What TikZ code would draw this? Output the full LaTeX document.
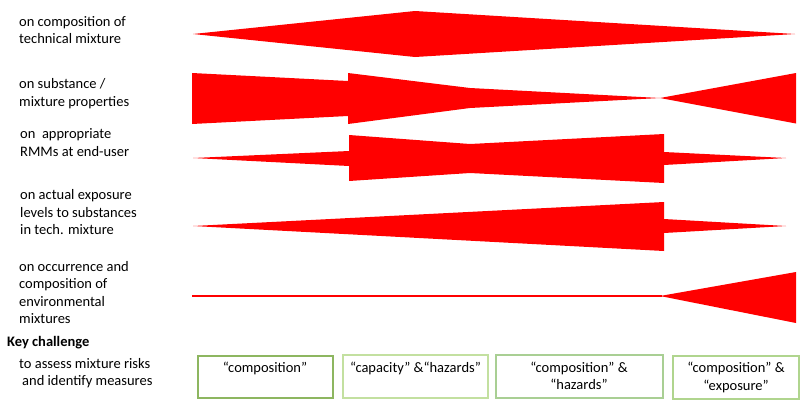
\documentclass[tikz,border=0pt]{standalone}
\usepackage{fontspec}
\setmainfont{Carlito}
\definecolor{arrowred}{HTML}{FF0000}
\definecolor{boxA}{HTML}{8DB660}
\definecolor{boxB}{HTML}{C3E0A0}
\definecolor{boxC}{HTML}{A9CF94}
\definecolor{boxD}{HTML}{B0D58E}
\begin{document}
\begin{tikzpicture}[x=1pt,y=-1pt,
  lbl/.style={anchor=base west, inner sep=0pt, font=\fontsize{14.5}{17.5}\selectfont},
  btxt/.style={anchor=base, inner sep=0pt, font=\fontsize{14.5}{17.5}\selectfont},
  redshape/.style={fill=arrowred, draw=none},
  kbox/.style={draw=#1, line width=2pt, fill=none}]
\useasboundingbox (0,0) rectangle (800,400);

% left labels
\node[lbl] (t1a) at (19,26) {on composition of};
\node[lbl] (t1b) at (19,43.5) {technical mixture};
\node[lbl] (t2a) at (19,88.5) {on substance /};
\node[lbl] (t2b) at (19,106) {mixture properties};
\node[lbl] (t3a) at (20,138.5) {on\ \ appropriate};
\node[lbl] (t3b) at (20,156) {RMMs at end-user};
\node[lbl] (t4a) at (20,199.5) {on actual exposure};
\node[lbl] (t4b) at (20,217) {levels to substances};
\node[lbl] (t4c) at (20,234.5) {in tech. mixture};
\node[lbl] (t5a) at (19,271) {on occurrence and};
\node[lbl] (t5b) at (19,288.5) {composition of};
\node[lbl] (t5c) at (19,306) {environmental};
\node[lbl] (t5d) at (19,323.5) {mixtures};
\node[lbl, font=\fontsize{14.5}{17.5}\selectfont\bfseries] (kc) at (7,346) {Key challenge};
\node[lbl] (t6a) at (19,368) {to assess mixture risks};
\node[lbl] (t6b) at (22,385.5) {and identify measures};

% row 1
\fill[redshape] (193,34) -- (415,11) -- (795,34) -- (415,57) -- cycle;
% row 2
\fill[redshape] (192,73) -- (348,81) -- (348,73) -- (470,88) -- (660,98) -- (470,108) -- (348,124) -- (348,116) -- (192,124) -- cycle;
\fill[redshape] (660,98) -- (796,73) -- (796,123.5) -- cycle;
% row 3
\fill[redshape] (193,158) -- (349,151) -- (349,135) -- (470,144) -- (664,134) -- (664,152) -- (786,158) -- (664,165) -- (664,183) -- (470,173) -- (349,181) -- (349,166) -- cycle;
% row 4
\fill[redshape] (193,226) -- (664,202) -- (664,219) -- (786,226) -- (664,233) -- (664,251) -- cycle;
% row 5
\draw[arrowred, line width=1.5pt] (192,296) -- (662,296);
\fill[redshape] (660,296) -- (796,272) -- (796,323) -- cycle;

% key challenge boxes
\draw[kbox=boxA] (197.5,355.5) rectangle (332.5,397.5);
\draw[kbox=boxB] (343,355) rectangle (488,398);
\draw[kbox=boxC] (495.5,355) rectangle (663,398);
\draw[kbox=boxD] (673,356) rectangle (798.5,399);
\node[btxt] (b1) at (265,372) {“composition”};
\node[btxt] (b2) at (415.5,372) {“capacity” \&“hazards”};
\node[btxt] (b3a) at (579,372) {“composition” \&};
\node[btxt] (b3b) at (579,389.5) {“hazards”};
\node[btxt] (b4a) at (736,372.5) {“composition” \&};
\node[btxt] (b4b) at (736,390) {“exposure”};
\end{tikzpicture}
\end{document}
